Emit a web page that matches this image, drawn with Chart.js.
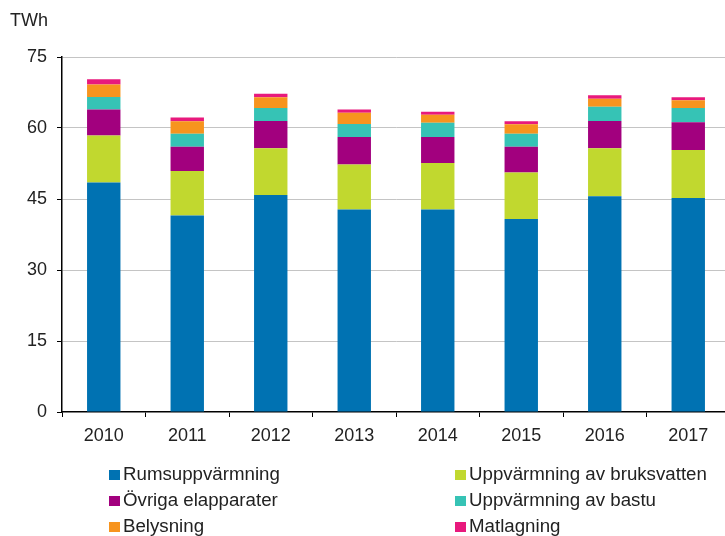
<!DOCTYPE html>
<html>
<head>
<meta charset="utf-8">
<script src="https://cdn.jsdelivr.net/npm/chart.js@4"></script>
<style>
  body { margin: 0; background: #fff; overflow: hidden; width: 725px; height: 536px; position: relative; }
  #chart { position: absolute; left: 0; top: 0; }
  #legend { position: absolute; left: 0; top: 0; font-family: "Liberation Sans", Arial, sans-serif; font-size: 18.7px; color: #222; }
  .item { position: absolute; white-space: nowrap; line-height: 20px; }
  .box { display: inline-block; width: 11px; height: 10px; margin-right: 3px; vertical-align: 0px; }
</style>
</head>
<body>
<canvas id="chart" width="735" height="536"></canvas>
<div id="legend"></div>
<script>
// data (TWh)
const years = ['2010', '2011', '2012', '2013', '2014', '2015', '2016', '2017'];
const rumsuppvarmning = [48.5, 41.5, 45.85, 42.8, 42.8, 40.8, 45.6, 45.2];
const bruksvatten = [9.9, 9.4, 9.85, 9.5, 9.8, 9.8, 10.1, 10.15];
const ovrigaElapparater = [5.5, 5.15, 5.8, 5.8, 5.5, 5.45, 5.8, 5.85];
const bastu = [2.65, 2.75, 2.7, 2.75, 3.0, 2.75, 3.0, 3.0];
const belysning = [2.65, 2.6, 2.3, 2.35, 1.7, 2.0, 1.7, 1.65];
const matlagning = [1.1, 0.8, 0.75, 0.7, 0.65, 0.6, 0.7, 0.65];
const yTicks = [0, 15, 30, 45, 60, 75];

const series = [
  { label: 'Rumsuppvärmning', data: rumsuppvarmning, color: '#0072b2' },
  { label: 'Uppvärmning av bruksvatten', data: bruksvatten, color: '#c1d82f' },
  { label: 'Övriga elapparater', data: ovrigaElapparater, color: '#a2007e' },
  { label: 'Uppvärmning av bastu', data: bastu, color: '#36c3b5' },
  { label: 'Belysning', data: belysning, color: '#f7941e' },
  { label: 'Matlagning', data: matlagning, color: '#e8197d' }
];

const font = { family: '"Liberation Sans", Arial, sans-serif', size: 18 };

const unitLabel = {
  id: 'unitLabel',
  afterDraw(chart) {
    const ctx = chart.ctx;
    ctx.save();
    ctx.font = '18px "Liberation Sans", Arial, sans-serif';
    ctx.fillStyle = '#222';
    ctx.textBaseline = 'alphabetic';
    ctx.fillText('TWh', 10, 26);
    ctx.restore();
  }
};

const chart = new Chart(document.getElementById('chart'), {
  type: 'bar',
  data: {
    labels: years,
    datasets: series.map(s => ({
      label: s.label, data: s.data, backgroundColor: s.color,
      borderWidth: 0, barPercentage: 0.4, categoryPercentage: 1
    }))
  },
  options: {
    responsive: false,
    animation: false,
    layout: { padding: { top: 57, right: 5, bottom: 84, left: 0 } },
    plugins: { legend: { display: false }, tooltip: { enabled: false } },
    scales: {
      x: {
        stacked: true,
        grid: { display: true, drawOnChartArea: false, offset: true, tickLength: 5, tickColor: '#000' },
        border: { display: true, color: '#000', width: 1.5 },
        ticks: { font, color: '#222', padding: 8 },
        afterFit(scale) { scale.height = 40; }
      },
      y: {
        stacked: true,
        min: 0, max: 75,
        afterBuildTicks(scale) { scale.ticks = yTicks.map(v => ({ value: v })); },
        grid: {
          color: ctx => ctx.tick && ctx.tick.value === 0 ? 'rgba(0,0,0,0)' : '#c4c4c4',
          borderDash: [2, 2], tickLength: 5, tickColor: '#000', tickBorderDash: []
        },
        border: { display: true, color: '#000', width: 1.5 },
        ticks: { font, color: '#222', padding: 10 },
        afterFit(scale) { scale.width = 62; }
      }
    }
  },
  plugins: [unitLabel]
});

// two-column legend under the chart
const legend = document.getElementById('legend');
const cols = [109, 455];
const rows = [464, 490, 516];
chart.data.datasets.forEach((ds, i) => {
  const el = document.createElement('div');
  el.className = 'item';
  el.style.left = cols[i % 2] + 'px';
  el.style.top = rows[Math.floor(i / 2)] + 'px';
  el.innerHTML = '<span class="box" style="background:' + ds.backgroundColor + '"></span>' + ds.label;
  legend.appendChild(el);
});
</script>
</body>
</html>
